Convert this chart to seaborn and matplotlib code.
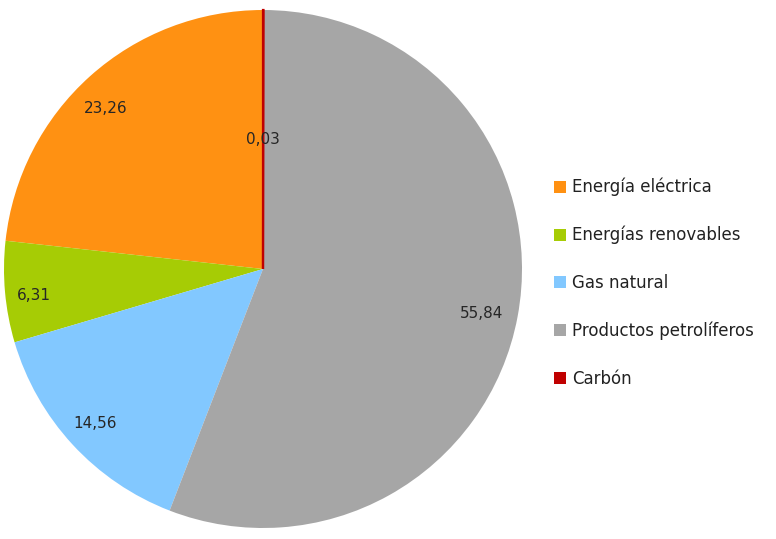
import matplotlib
matplotlib.use('Agg')
import matplotlib.pyplot as plt
import matplotlib.patches as mpatches
import numpy as np
import seaborn as sns

categories = ["Energía eléctrica", "Energías renovables", "Gas natural",
              "Productos petrolíferos", "Carbón"]
values = [23.26, 6.31, 14.56, 55.84, 0.03]
value_labels = ["23,26", "6,31", "14,56", "55,84", "0,03"]
colors = ["#FF9112", "#A6CC05", "#82C8FF", "#A6A6A6", "#C00000"]

sns.set_theme(style="white")
plt.rcParams['font.family'] = ['DejaVu Sans']

fig = plt.figure(figsize=(7.76, 5.39), dpi=100)
ax = fig.add_axes([4 / 776, 11 / 539, 518 / 776, 518 / 539])

wedges, _ = ax.pie(values, colors=colors, startangle=90, counterclock=True,
                   wedgeprops=dict(linewidth=0))
# the tiny carbon slice shows as a red line
wedges[-1].set_edgecolor(colors[-1])
wedges[-1].set_linewidth(1.6)
ax.set_xlim(-1, 1)
ax.set_ylim(-1, 1)
ax.set_aspect('equal')

# label placement: radius fraction and angle nudge per slice
label_r = [0.868, 0.89, 0.883, 0.862, 0.5]
label_dang = [2.5, 1.5, 0, -0.8, 0]
for w, lab, r, da in zip(wedges, value_labels, label_r, label_dang):
    ang = np.deg2rad((w.theta1 + w.theta2) / 2 + da)
    ax.text(r * np.cos(ang), r * np.sin(ang), lab, ha='center', va='center',
            fontsize=11, color='#262626')

handles = [mpatches.Patch(facecolor=c, edgecolor='none') for c in colors]
fig.legend(handles, categories, loc='upper left', bbox_to_anchor=(554 / 776, 1 - 178 / 539),
           frameon=False, fontsize=12, labelspacing=1.77, handlelength=0.7,
           handleheight=0.7, handletextpad=0.4, borderaxespad=0, borderpad=0,
           labelcolor='#222222')

fig.savefig("out.png", dpi=100)
